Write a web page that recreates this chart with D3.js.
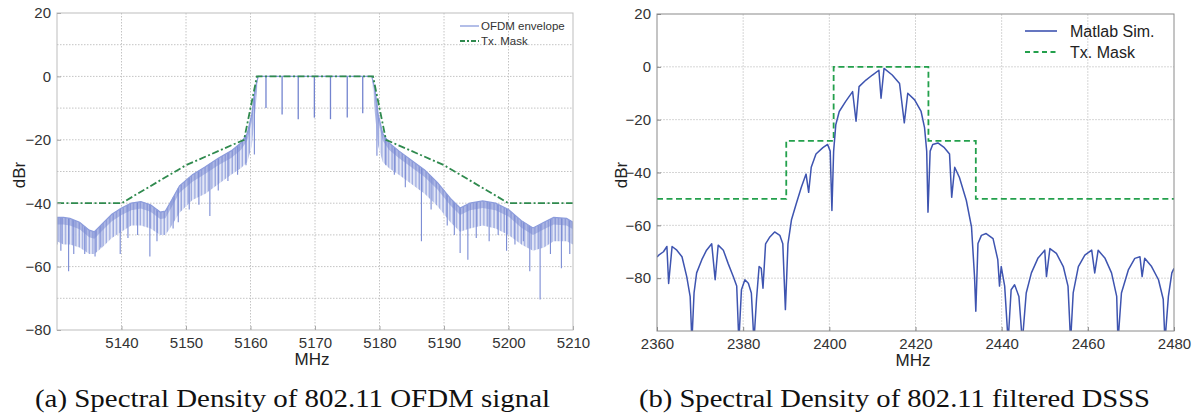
<!DOCTYPE html>
<html>
<head>
<meta charset="utf-8">
<script src="https://cdn.jsdelivr.net/npm/d3@7"></script>
<style>
  body { margin: 0; background: #fff; }
  svg { display: block; }
  .tick text { font-family: "Liberation Sans", Arial, sans-serif; font-size: 15px; fill: #333; }
</style>
</head>
<body>
<svg width="1193" height="417"></svg>
<script>
// ---- panel (a) : OFDM ----
var ofdmFreq  = [5130,5131,5132,5133.5,5135,5135.8,5137,5138.5,5140,5141.5,5143,5144.5,5146,5146.8,5147.5,5149,5151,5153,5155,5157,5158.5,5159.5,5160.2,5160.7,5161.2,5170,5178.8,5179.3,5179.8,5180.5,5181.5,5183,5185,5187,5189,5191,5192.5,5194,5196,5198,5200,5202,5203.8,5205.5,5207,5209,5210]
var ofdmTop   = [-44.5,-44.5,-44.8,-46,-48.5,-49,-46.5,-43.5,-41.5,-40,-39.5,-40.5,-42.8,-42.5,-40,-34.5,-31,-28.5,-25.8,-23.5,-21,-18,-12,-4,0,0,0,-4,-12,-18,-21,-23.5,-26.5,-29.5,-33.5,-38.5,-41.5,-40,-39.3,-40,-42,-45.5,-47.8,-46,-44.5,-44.8,-46]
var ofdmFloor = [-52,-53,-53,-54,-56,-56,-54,-51,-49,-47,-47,-48,-50,-50,-48,-43,-39,-37,-34,-31,-29,-27,-22,-12,0,0,0,-12,-22,-27,-29,-31,-34,-37,-41,-46,-49,-48,-47,-48,-50,-53,-55,-54,-52,-52,-53]
// deep nulls of the comb: [MHz, dB]
var ofdmSpikes = [[5130,-53],[5130.6,-55],[5131.8,-61.5],[5132.6,-56],[5134.3,-56],[5135.9,-56.8],[5136.8,-54],[5139.8,-56],[5141,-51],[5142.5,-50],[5144.4,-56.8],[5145.5,-52],[5148,-48],[5148.8,-46],[5150.5,-42],[5152,-40.5],[5153.7,-44],[5155,-36],[5156.5,-33],[5158,-31],[5159.3,-28],[5160.6,-24.6],
                  [5179.6,-25],[5181,-28],[5182.3,-31],[5184,-35],[5186.5,-52],[5188,-42],[5190.5,-47],[5191.6,-50],[5192.5,-55.7],[5193.7,-57.8],[5195,-51],[5197,-52],[5198.4,-50],[5199.7,-55],[5201,-53],[5202.3,-52],[5203.3,-61.5],[5204.9,-70.4],[5206.5,-56],[5208.2,-60.5],[5209.5,-56]]
// pilot notches on the flat top
var ofdmNotches = [[5162.4,-10],[5164.9,-12],[5167.4,-13.5],[5169.9,-13],[5172.4,-13.5],[5175,-13],[5177.4,-11.6]]
var ofdmMaskF  = [5130,5140,5150,5159,5161,5179,5181,5190,5200,5210]
var ofdmMaskDb = [-40,-40,-28,-20,0,0,-20,-28,-40,-40]
var aXTicks = [5140,5150,5160,5170,5180,5190,5200,5210]
var aXGrid  = [5140,5150,5160,5170,5180,5190,5200]
var aYTicks = [20,0,-20,-40,-60,-80]
var aYGrid  = [10,0,-10,-20,-30,-40,-50,-60,-70]

// ---- panel (b) : DSSS ----
var dsssF  = [2360,2360.4,2361.5,2362.3,2362.7,2363.5,2364.6,2365.8,2366.9,2367.7,2368.1,2368.6,2369.2,2370.4,2371.5,2372.7,2373.5,2374.2,2375.4,2376.5,2377.7,2378.5,2379,2379.6,2380.4,2381.2,2381.9,2382.5,2383.1,2383.7,2384.2,2384.6,2385.2,2386.2,2387.3,2388.5,2389.2,2389.8,2390.4,2391.2,2392.3,2393.5,2394.6,2395.2,2395.8,2396.9,2398.5,2399.6,2400.2,2400.6,2401,2401.5,2402.3,2403.8,2405.4,2406.2,2406.9,2408.5,2410,2411.5,2412,2412.7,2414.6,2416.3,2417.4,2418.2,2419.8,2421.3,2422.1,2422.6,2422.9,2423.4,2424,2425.2,2426.7,2427.9,2428.4,2429.1,2430.2,2431.8,2433,2433.7,2434,2434.5,2435.3,2436.4,2438,2439.1,2439.5,2439.9,2440.7,2441.5,2442.2,2443,2444,2444.8,2445.7,2446.9,2448.4,2450,2450.4,2451.2,2452.7,2454.3,2455.4,2456,2456.6,2457.8,2459.3,2460.9,2461.6,2462.4,2464,2465.5,2466.7,2467,2467.8,2469.4,2470.9,2472.1,2472.6,2473.2,2474.8,2476.4,2477.5,2477.9,2478.7,2479.5,2480]
var dsssDb = [-72,-71.3,-70,-68,-82,-68,-69.4,-71.9,-79.4,-87,-104,-85.6,-78,-73,-69.4,-67,-80.6,-67.5,-69.4,-74.4,-79.4,-83,-104,-84.4,-80.6,-81.9,-85.6,-104,-88,-75.6,-76.3,-83.8,-67,-64.4,-62.5,-63.8,-67,-91.9,-67,-58,-51.9,-45.6,-40.6,-47.5,-38,-33,-30.6,-29.4,-31.9,-54.4,-31.9,-21.9,-16.9,-13.1,-9.4,-20.6,-7.5,-5,-3.1,-1.3,-11.9,-0.6,-3.1,-6.3,-21.2,-10,-12.5,-16.9,-23,-31.9,-55,-31.9,-29.4,-28.8,-30.6,-33,-49.4,-38,-41.9,-50.6,-60.6,-79.4,-92.5,-66.9,-63.8,-63.1,-65,-73,-83,-75.6,-83,-104,-84.4,-82.5,-86.9,-104,-85.6,-78,-72.5,-69.4,-79.4,-68.8,-70.6,-75.6,-83,-104,-85.6,-75.6,-71.3,-69.4,-78,-69.4,-72.5,-78,-86.9,-104,-85.6,-76.9,-72.5,-71.9,-79.4,-72.5,-75.6,-80.6,-88,-104,-86.9,-78,-76.3]
var dsssMaskF  = [2360,2390,2390,2401,2401,2423,2423,2434,2434,2480]
var dsssMaskDb = [-50,-50,-28,-28,0,0,-28,-28,-50,-50]
var bXTicks = [2360,2380,2400,2420,2440,2460,2480]
var bYTicks = [20,0,-20,-40,-60,-80]

var svg = d3.select("svg")
var defs = svg.append("defs")

var hatch = defs.append("pattern").attr("id", "hatch")
    .attr("patternUnits", "userSpaceOnUse").attr("width", 3.4).attr("height", 4)
hatch.append("rect").attr("width", 3.4).attr("height", 4).attr("fill", "#e2e6f6")
hatch.append("line").attr("x1", 1).attr("x2", 1).attr("y1", 0).attr("y2", 4)
    .attr("stroke", "#8394d8").attr("stroke-width", 1.1)

var textFont = '"Liberation Sans", Arial, sans-serif'

// ===================== panel a =====================
var a = {left: 57, right: 573, top: 13, bottom: 330}
var xa = d3.scaleLinear().domain([5130, 5210]).range([a.left, a.right])
var ya = d3.scaleLinear().domain([-80, 20]).range([a.bottom, a.top])

defs.append("clipPath").attr("id", "clipA").append("rect")
    .attr("x", a.left).attr("y", a.top).attr("width", a.right - a.left).attr("height", a.bottom - a.top)

var ga = svg.append("g")

// grid
ga.selectAll(".gx").data(aXGrid).enter().append("line")
    .attr("x1", d => xa(d)).attr("x2", d => xa(d)).attr("y1", a.top).attr("y2", a.bottom)
    .attr("stroke", "#c4c4c4").attr("stroke-dasharray", "1.5,1.5")
ga.selectAll(".gy").data(aYGrid).enter().append("line")
    .attr("y1", d => ya(d)).attr("y2", d => ya(d)).attr("x1", a.left).attr("x2", a.right)
    .attr("stroke", "#c4c4c4").attr("stroke-dasharray", "1.5,1.5")

var plotA = ga.append("g").attr("clip-path", "url(#clipA)")
var envIdx = d3.range(ofdmFreq.length)

// comb band
plotA.append("path")
    .attr("d", d3.area().x(i => xa(ofdmFreq[i])).y0(i => ya(ofdmFloor[i])).y1(i => ya(ofdmTop[i]))(envIdx))
    .attr("fill", "url(#hatch)").attr("opacity", 0.95)

// darker core just under the envelope
plotA.append("path")
    .attr("d", d3.area().x(i => xa(ofdmFreq[i])).y0(i => Math.min(ya(ofdmTop[i]) + 7, ya(ofdmFloor[i]))).y1(i => ya(ofdmTop[i]))(envIdx))
    .attr("fill", "#7788d2").attr("opacity", 0.5)

var topAt = d3.scaleLinear().domain(ofdmFreq).range(ofdmTop)

plotA.selectAll(".spk").data(ofdmSpikes).enter().append("line")
    .attr("x1", d => xa(d[0])).attr("x2", d => xa(d[0]))
    .attr("y1", d => ya(topAt(d[0]))).attr("y2", d => ya(d[1]))
    .attr("stroke", "#7a8bd4").attr("stroke-width", 1.1)

plotA.selectAll(".nch").data(ofdmNotches).enter().append("line")
    .attr("x1", d => xa(d[0])).attr("x2", d => xa(d[0]))
    .attr("y1", ya(0)).attr("y2", d => ya(d[1]))
    .attr("stroke", "#7384cf").attr("stroke-width", 1.3)

plotA.append("path")
    .attr("d", d3.line().x(i => xa(ofdmFreq[i])).y(i => ya(ofdmTop[i]))(envIdx))
    .attr("fill", "none").attr("stroke", "#8c9cdc").attr("stroke-width", 1.2)

plotA.append("path")
    .attr("d", d3.line().x(i => xa(ofdmMaskF[i])).y(i => ya(ofdmMaskDb[i]))(d3.range(ofdmMaskF.length)))
    .attr("fill", "none").attr("stroke", "#2f8a4e").attr("stroke-width", 1.8)
    .attr("stroke-dasharray", "7,2.5,2,2.5")

ga.append("rect").attr("x", a.left).attr("y", a.top).attr("width", a.right - a.left).attr("height", a.bottom - a.top)
    .attr("fill", "none").attr("stroke", "#bdbdbd")

ga.append("g").attr("transform", "translate(0," + a.bottom + ")")
    .call(d3.axisBottom(xa).tickValues(aXTicks).tickFormat(d3.format("d")).tickSize(-4).tickPadding(7))
    .call(g => g.select(".domain").remove())
    .call(g => g.selectAll(".tick line").attr("stroke", "#aaa"))
ga.append("g").attr("transform", "translate(" + a.left + ",0)")
    .call(d3.axisLeft(ya).tickValues(aYTicks).tickSize(-4).tickPadding(6))
    .call(g => g.select(".domain").remove())
    .call(g => g.selectAll(".tick line").attr("stroke", "#aaa"))

ga.append("text").attr("x", 312).attr("y", 365).attr("text-anchor", "middle")
    .style("font-family", textFont).style("font-size", "17px").attr("fill", "#222").text("MHz")
ga.append("text").attr("transform", "translate(25,175) rotate(-90)").attr("text-anchor", "middle")
    .style("font-family", textFont).style("font-size", "17px").attr("fill", "#222").text("dBr")

// legend a
var legA = ga.append("g")
legA.append("line").attr("x1", 460).attr("x2", 479).attr("y1", 26).attr("y2", 26)
    .attr("stroke", "#9aa8e0").attr("stroke-width", 1.5)
legA.append("line").attr("x1", 460).attr("x2", 479).attr("y1", 41).attr("y2", 41)
    .attr("stroke", "#2f8a4e").attr("stroke-width", 1.8).attr("stroke-dasharray", "5,2,2,2")
legA.append("text").attr("x", 481).attr("y", 30).style("font-family", textFont).style("font-size", "11.5px")
    .attr("fill", "#333").text("OFDM envelope")
legA.append("text").attr("x", 481).attr("y", 45).style("font-family", textFont).style("font-size", "11.5px")
    .attr("fill", "#333").text("Tx. Mask")

// ===================== panel b =====================
var b = {left: 657, right: 1174, top: 14, bottom: 331}
var xb = d3.scaleLinear().domain([2360, 2480]).range([b.left, b.right])
var yb = d3.scaleLinear().domain([-100, 20]).range([b.bottom, b.top])

defs.append("clipPath").attr("id", "clipB").append("rect")
    .attr("x", b.left).attr("y", b.top).attr("width", b.right - b.left).attr("height", b.bottom - b.top)

var gb = svg.append("g")
gb.selectAll(".gx").data(bXTicks.slice(1, -1)).enter().append("line")
    .attr("x1", d => xb(d)).attr("x2", d => xb(d)).attr("y1", b.top).attr("y2", b.bottom)
    .attr("stroke", "#d6d6d6").attr("stroke-dasharray", "2,1")
gb.selectAll(".gy").data(bYTicks.slice(1)).enter().append("line")
    .attr("y1", d => yb(d)).attr("y2", d => yb(d)).attr("x1", b.left).attr("x2", b.right)
    .attr("stroke", "#d6d6d6").attr("stroke-dasharray", "2,1")

var plotB = gb.append("g").attr("clip-path", "url(#clipB)")
plotB.append("path")
    .attr("d", d3.line().x(i => xb(dsssMaskF[i])).y(i => yb(dsssMaskDb[i]))(d3.range(dsssMaskF.length)))
    .attr("fill", "none").attr("stroke", "#23a04c").attr("stroke-width", 1.8)
    .attr("stroke-dasharray", "6,3.5")
plotB.append("path")
    .attr("d", d3.line().x(i => xb(dsssF[i])).y(i => yb(dsssDb[i]))(d3.range(dsssF.length)))
    .attr("fill", "none").attr("stroke", "#3e54b0").attr("stroke-width", 1.5).attr("stroke-linejoin", "round")

gb.append("rect").attr("x", b.left).attr("y", b.top).attr("width", b.right - b.left).attr("height", b.bottom - b.top)
    .attr("fill", "none").attr("stroke", "#8a8a8a")

gb.append("g").attr("transform", "translate(0," + b.bottom + ")")
    .call(d3.axisBottom(xb).tickValues(bXTicks).tickFormat(d3.format("d")).tickSize(-4).tickPadding(7))
    .call(g => g.select(".domain").remove())
    .call(g => g.selectAll(".tick line").attr("stroke", "#888"))
gb.append("g").attr("transform", "translate(" + b.left + ",0)")
    .call(d3.axisLeft(yb).tickValues(bYTicks).tickSize(-4).tickPadding(6))
    .call(g => g.select(".domain").remove())
    .call(g => g.selectAll(".tick line").attr("stroke", "#888"))

gb.append("text").attr("x", 913).attr("y", 366).attr("text-anchor", "middle")
    .style("font-family", textFont).style("font-size", "17px").attr("fill", "#222").text("MHz")
gb.append("text").attr("transform", "translate(627,175) rotate(-90)").attr("text-anchor", "middle")
    .style("font-family", textFont).style("font-size", "17px").attr("fill", "#222").text("dBr")

var legB = gb.append("g")
legB.append("line").attr("x1", 1025).attr("x2", 1057).attr("y1", 31).attr("y2", 31)
    .attr("stroke", "#3e54b0").attr("stroke-width", 1.6)
legB.append("line").attr("x1", 1025).attr("x2", 1057).attr("y1", 52).attr("y2", 52)
    .attr("stroke", "#23a04c").attr("stroke-width", 1.8).attr("stroke-dasharray", "5,3.5")
legB.append("text").attr("x", 1070).attr("y", 37).style("font-family", textFont).style("font-size", "16px")
    .attr("fill", "#222").text("Matlab Sim.")
legB.append("text").attr("x", 1070).attr("y", 58).style("font-family", textFont).style("font-size", "16px")
    .attr("fill", "#222").text("Tx. Mask")

// ---- captions ----
var captions = [
  {x: 35, w: 515, text: "(a) Spectral Density of 802.11 OFDM signal"},
  {x: 639, w: 511, text: "(b) Spectral Density of 802.11 filtered DSSS"}
]
svg.selectAll(".cap").data(captions).enter().append("text")
    .attr("x", d => d.x).attr("y", 407)
    .attr("textLength", d => d.w).attr("lengthAdjust", "spacingAndGlyphs")
    .style("font-family", '"Liberation Serif", "DejaVu Serif", serif').style("font-size", "25px")
    .attr("fill", "#111").text(d => d.text)
</script>
</body>
</html>
